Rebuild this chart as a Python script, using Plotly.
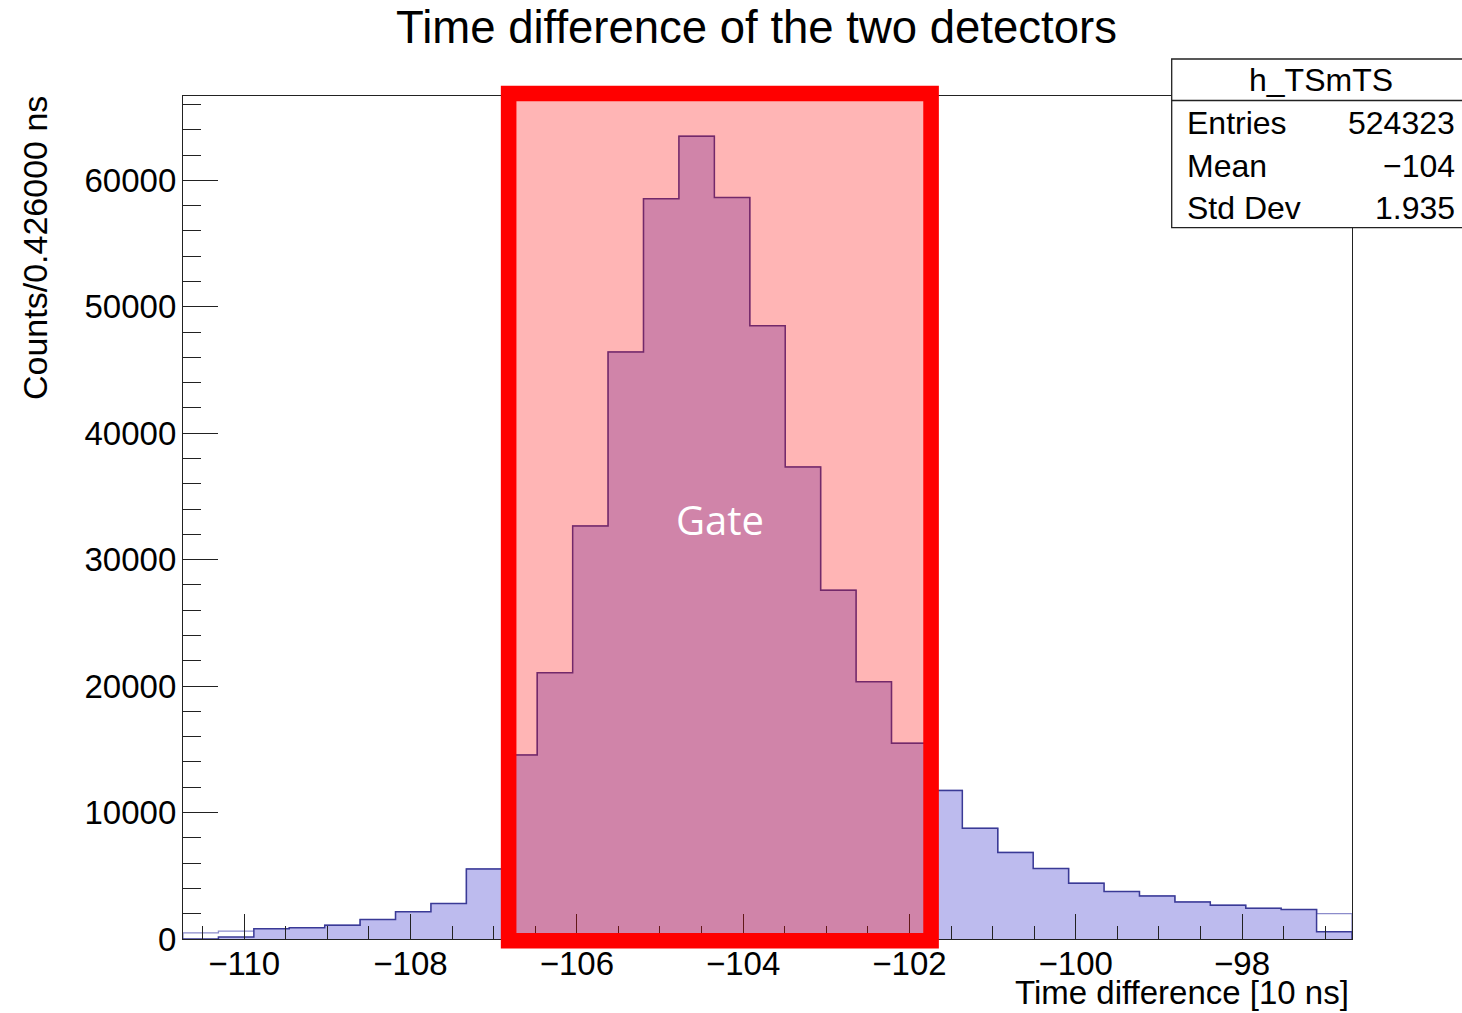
import plotly.graph_objects as go

# ---- histogram h_TSmTS : 33 bins of 0.426 (x 10 ns) ----
BIN_WIDTH = 0.426
X_MIN = -110.736
N_BINS = 33

counts = [0, 150, 805, 884, 1090, 1540, 2150, 2800, 5540,
          14560, 21060, 32670, 46430, 58550, 63500, 58640, 48510, 37330,
          27590, 20350, 15490,
          11750, 8750, 6850, 5570, 4410, 3750, 3410, 2935, 2670, 2430, 2330, 570]

# second (unfilled) copy of the spectrum, differs only in the edge bins
outline_counts = [490, 615, 805, 884, 1090, 1540, 2150, 2800, 5540,
                  14560, 21060, 32670, 46430, 58550, 63500, 58640, 48510, 37330,
                  27590, 20350, 15490,
                  11750, 8750, 6850, 5570, 4410, 3750, 3410, 2935, 2670, 2430, 2330, 2010]

x_ticks = [-110, -108, -106, -104, -102, -100, -98]

# statistics box
HIST_NAME = "h_TSmTS"
stat_labels = ["Entries", "Mean", "Std Dev"]
stat_values = ["524323", "\u2212104", "1.935"]

# time gate (x 10 ns)
GATE_LO = -106.82
GATE_HI = -101.74

X_MAX = X_MIN + N_BINS * BIN_WIDTH
Y_MAX = 1.05 * max(counts)

edges = [X_MIN + i * BIN_WIDTH for i in range(N_BINS + 1)]


def step_path(values):
    xs, ys = [edges[0]], [0]
    for i, v in enumerate(values):
        xs += [edges[i], edges[i + 1]]
        ys += [v, v]
    xs.append(edges[-1])
    ys.append(0)
    return xs, ys


FONT = "Liberation Sans, Arial, Helvetica, sans-serif"
FILL = "#BDBBEE"
LINE = "#3A3A96"

fig = go.Figure()

ox, oy = step_path(outline_counts)
fig.add_trace(go.Scatter(x=ox, y=oy, mode="lines",
                         line=dict(color="#8C8CCB", width=1.3),
                         hoverinfo="skip"))

sx, sy = step_path(counts)
fig.add_trace(go.Scatter(x=sx, y=sy, mode="lines", fill="tozeroy",
                         fillcolor=FILL, line=dict(color=LINE, width=1.5),
                         hoverinfo="skip"))

# ---- frame geometry (pixels) ----
W, H = 1462, 1013
L, R, T, B = 183, 110, 96, 74
PW, PH = W - L - R, H - T - B


def px(p):
    return (p - L) / PW


def py(p):
    return (H - B - p) / PH


def dx(v):
    return (v - X_MIN) / (X_MAX - X_MIN)


axis_common = dict(showgrid=False, zeroline=False, showline=True,
                   linecolor="#222222", linewidth=1.3, mirror=True,
                   ticks="inside", tickcolor="#222222", tickwidth=1.3,
                   tickfont=dict(family=FONT, size=33, color="black"))

fig.update_xaxes(range=[X_MIN, X_MAX], tickvals=x_ticks, ticklen=25,
                 ticklabelstandoff=-5,
                 minor=dict(dtick=0.5, tick0=-110, ticks="inside", ticklen=12.5,
                            tickwidth=1.3, tickcolor="#222222", showgrid=False),
                 **axis_common)
fig.update_yaxes(range=[0, Y_MAX], dtick=10000, tick0=0, tickformat="d",
                 ticklen=35, ticklabelstandoff=-1,
                 minor=dict(dtick=2000, tick0=0, ticks="inside", ticklen=17.5,
                            tickwidth=1.3, tickcolor="#222222", showgrid=False),
                 **axis_common)

shapes = [
    # gate: translucent red window with thick red border
    dict(type="rect", xref="paper", yref="paper",
         x0=dx(GATE_LO), x1=dx(GATE_HI), y0=py(940.8), y1=py(93.5),
         fillcolor="rgba(255,0,0,0.29)", line=dict(color="#FF0000", width=15.6),
         layer="above"),
    # statistics box
    dict(type="rect", xref="paper", yref="paper",
         x0=px(1171.7), x1=px(1472), y0=py(227.7), y1=py(59),
         fillcolor="white", line=dict(color="#222222", width=1.3), layer="above"),
    dict(type="line", xref="paper", yref="paper",
         x0=px(1171.7), x1=px(1472), y0=py(100.5), y1=py(100.5),
         line=dict(color="#222222", width=1.3), layer="above"),
]

annotations = [
    dict(text="Counts/0.426000 ns", xref="paper", yref="paper",
         x=px(35), y=py(94), xanchor="center", yanchor="top", textangle=-90,
         showarrow=False, font=dict(family=FONT, size=34, color="black")),
    dict(text="Time difference [10 ns]", xref="paper", yref="paper",
         x=px(1351), y=py(1013), xanchor="right", yanchor="bottom",
         showarrow=False, font=dict(family=FONT, size=33, color="black")),
    dict(text="Gate", xref="paper", yref="paper",
         x=(dx(GATE_LO) + dx(GATE_HI)) / 2, y=py(519),
         xanchor="center", yanchor="middle", showarrow=False,
         font=dict(family="Open Sans, Noto Sans, sans-serif", size=40, color="white")),
    dict(text=HIST_NAME, xref="paper", yref="paper",
         x=px(1321), y=py(80), xanchor="center", yanchor="middle",
         showarrow=False, font=dict(family=FONT, size=32, color="black")),
]
for i, (lab, val) in enumerate(zip(stat_labels, stat_values)):
    yc = py(123 + 42.5 * i)
    annotations.append(dict(text=lab, xref="paper", yref="paper", x=px(1185), y=yc,
                            xanchor="left", yanchor="middle", showarrow=False,
                            font=dict(family=FONT, size=32, color="black")))
    annotations.append(dict(text=val, xref="paper", yref="paper", x=px(1457), y=yc,
                            xanchor="right", yanchor="middle", showarrow=False,
                            font=dict(family=FONT, size=32, color="black")))

fig.update_layout(
    width=W, height=H,
    margin=dict(l=L, r=R, t=T, b=B),
    paper_bgcolor="white", plot_bgcolor="white",
    showlegend=False,
    font=dict(family=FONT, size=33, color="black"),
    title=dict(text="Time difference of the two detectors", xref="container",
               x=756.5 / W, xanchor="center", y=1 - 27 / H, yanchor="middle",
               font=dict(family=FONT, size=45.5, color="black")),
    shapes=shapes,
    annotations=annotations,
)

fig.write_html("out.html")
